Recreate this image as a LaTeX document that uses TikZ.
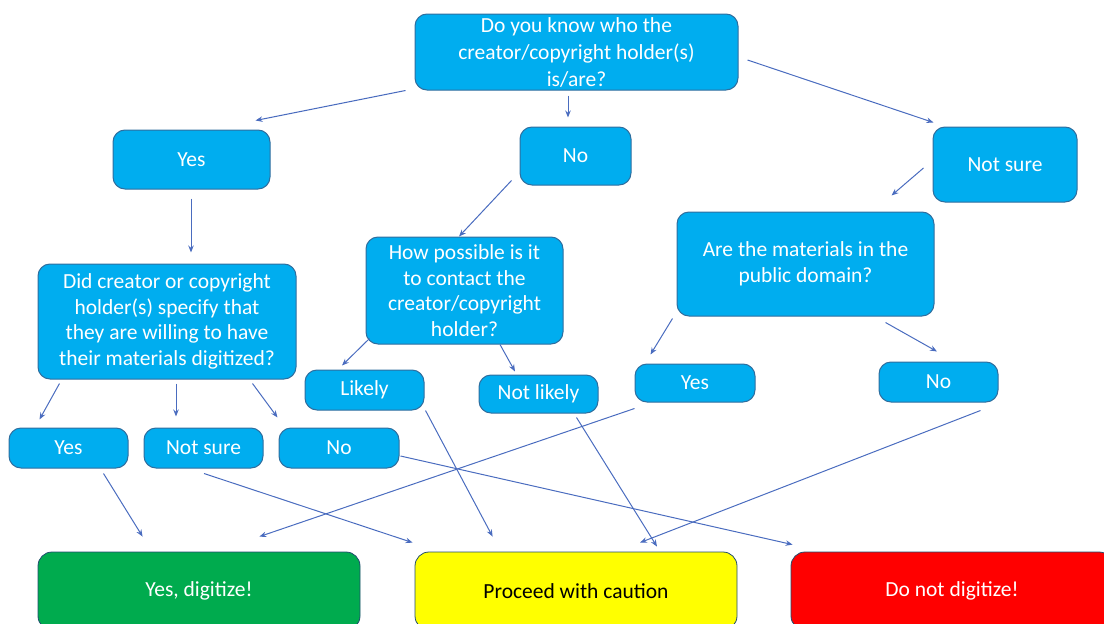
\documentclass[tikz,border=0pt]{standalone}
\usepackage{fontspec}
\setmainfont{Carlito}
\usetikzlibrary{arrows.meta}
\definecolor{boxblue}{HTML}{00ADEF}
\definecolor{boxedge}{HTML}{2F6E9E}
\definecolor{arrowc}{HTML}{4A6CBF}
\definecolor{okgreen}{HTML}{00AB4E}
\definecolor{cautionyellow}{HTML}{FFFF00}
\definecolor{stopred}{HTML}{FF0000}
\tikzset{
  box/.style={draw=boxedge, line width=1pt, fill=boxblue, rounded corners=12pt,
    text=white, align=center, inner sep=0pt,
    font=\fontsize{21.5}{25.5}\selectfont},
  endbox/.style={draw=boxedge!70!black, line width=0.8pt, rounded corners=14pt,
    align=center, inner sep=0pt, minimum width=322pt, minimum height=78pt,
    font=\fontsize{21.5}{25.5}\selectfont},
  arr/.style={draw=arrowc, line width=1pt, -{Stealth[length=7pt,width=5.5pt]}},
}
\begin{document}
\begin{tikzpicture}[x=1pt,y=-1pt]
\useasboundingbox (0,0) rectangle (1104,624);
% question and answer boxes
\node[box, minimum width=323pt, minimum height=76pt, font=\fontsize{21.5}{27}\selectfont] (top) at (576.5,52)
  {Do you know who the\\creator/copyright holder(s)\\is/are?};
\node[box, minimum width=157pt, minimum height=59pt] (yes1) at (191.5,159.5) {Yes};
\node[box, minimum width=111pt, minimum height=58pt] (no1) at (575.5,156) {No};
\node[box, minimum width=144pt, minimum height=75pt] (ns1) at (1005,164.5) {Not sure};
\node[box, minimum width=258pt, minimum height=115pt] (q2) at (167,321.5)
  {Did creator or copyright\\holder(s) specify that\\they are willing to have\\their materials digitized?};
\node[box, minimum width=197pt, minimum height=107pt] (q3) at (464.5,290.5)
  {How possible is it\\to contact the\\creator/copyright\\holder?};
\node[box, minimum width=257pt, minimum height=104pt] (q4) at (805.5,264)
  {Are the materials in the\\public domain?};
\node[box, minimum width=119pt, minimum height=40pt] (likely) at (364.5,390) {Likely};
\node[box, minimum width=119pt, minimum height=38pt] (notlikely) at (538.5,394) {Not likely};
\node[box, minimum width=120pt, minimum height=38pt] (yes4) at (695,383) {Yes};
\node[box, minimum width=119pt, minimum height=40pt] (no4) at (938.5,382) {No};
\node[box, minimum width=119pt, minimum height=40pt] (yes2) at (68.5,448) {Yes};
\node[box, minimum width=119pt, minimum height=40pt] (ns2) at (203.5,448) {Not sure};
\node[box, minimum width=120pt, minimum height=40pt] (no2) at (339,448) {No};
% outcome boxes
\node[endbox, fill=okgreen, text=white] (green) at (199,591) {Yes, digitize!};
\node[endbox, fill=cautionyellow, text=black] (yellow) at (576,591) {Proceed with caution};
\node[endbox, fill=stopred, text=white] (red) at (952,591) {Do not digitize!};
% connectors
\draw[arr] ([shift={(-9,0)}]top.south west) -- ([shift={(143,-9)}]yes1.north west);
\draw[arr] ([shift={(-8.5,5)}]top.south) -- ([shift={(-7.5,-9)}]no1.north);
\draw[arr] ([shift={(9,8)}]top.east) -- ([shift={(1,-4)}]ns1.north west);
\draw[arr] ([shift={(-0.5,9)}]yes1.south) -- ([shift={(24,-11)}]q2.north);
\draw[arr] ([shift={(-8,-5)}]no1.south west) -- ([shift={(-5.5,0)}]q3.north);
\draw[arr] ([shift={(-9,3.5)}]ns1.west) -- ([shift={(-43,-16)}]q4.north east);
\draw[arr] ([shift={(22,4)}]q2.south west) -- ([shift={(31,-8)}]yes2.north west);
\draw[arr] ([shift={(9,4)}]q2.south) -- ([shift={(-27.5,-11)}]ns2.north);
\draw[arr] ([shift={(-44,4)}]q2.south east) -- ([shift={(-1,-10)}]no2.north west);
\draw[arr] ([shift={(4,-6)}]q3.south west) -- ([shift={(-22.5,-4)}]likely.north);
\draw[arr] ([shift={(35.5,0)}]q3.south) -- ([shift={(-23.5,-3)}]notlikely.north);
\draw[arr] ([shift={(-4,2)}]q4.south west) -- ([shift={(16,-9)}]yes4.north west);
\draw[arr] ([shift={(-49,6)}]q4.south east) -- ([shift={(-1.5,-10)}]no4.north);
\draw[arr] ([shift={(-25,5)}]yes2.south east) -- ([shift={(105,-15)}]green.north west);
\draw[arr] ([shift={(0.5,5)}]ns2.south) -- ([shift={(-2,-9)}]yellow.north west);
\draw[arr] ([shift={(1,8)}]no2.east) -- ([shift={(2,-7)}]red.north west);
\draw[arr] ([shift={(1,0)}]likely.south east) -- ([shift={(78,-15)}]yellow.north west);
\draw[arr] ([shift={(-22,4)}]notlikely.south east) -- ([shift={(81,-5)}]yellow.north);
\draw[arr] ([shift={(0,6)}]yes4.south west) -- ([shift={(-101,-15)}]green.north east);
\draw[arr] ([shift={(-18,8)}]no4.south east) -- ([shift={(64,-9)}]yellow.north);
\end{tikzpicture}
\end{document}
